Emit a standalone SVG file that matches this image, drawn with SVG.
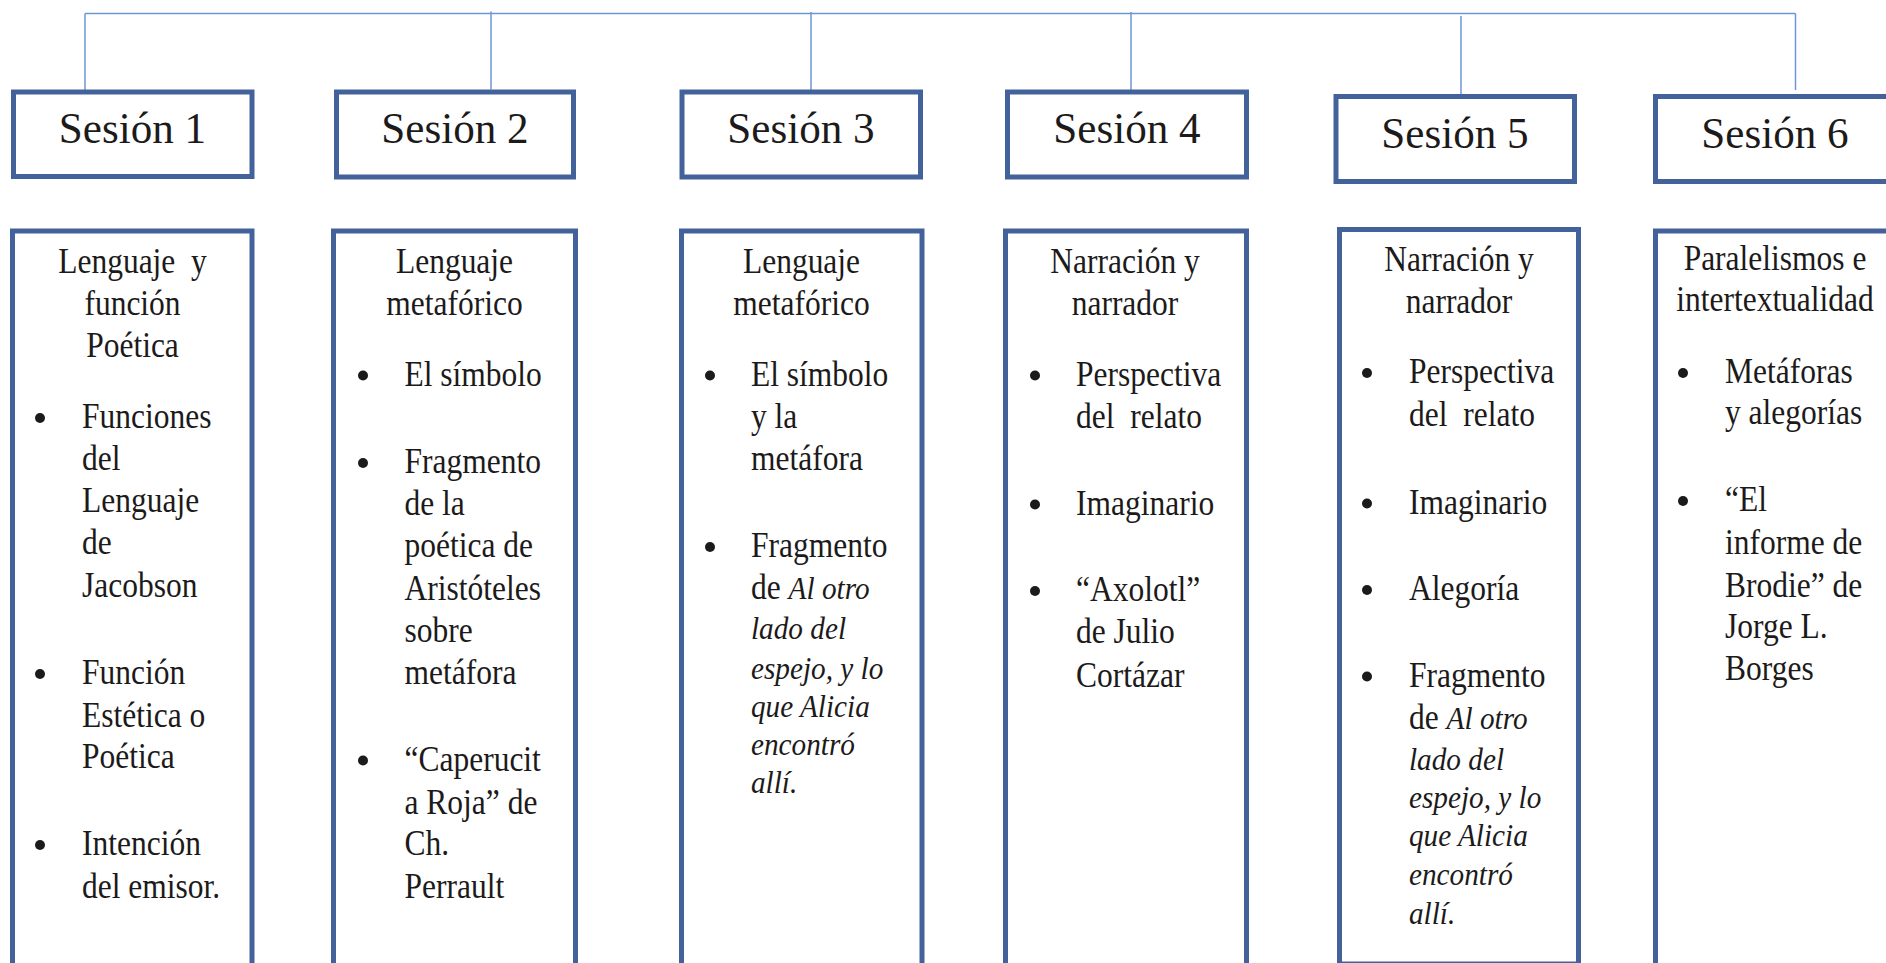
<svg xmlns="http://www.w3.org/2000/svg" width="1886" height="963" viewBox="0 0 1886 963">
<style>
.bg{fill:#ffffff}
.box{fill:#ffffff;stroke:#43629b;stroke-width:5}
.con{stroke:#6d97d4;stroke-width:1.5;fill:none}
.t{font-family:"Liberation Serif","Times New Roman",serif;font-size:35px;fill:#1c1a1a}
.h{font-family:"Liberation Serif","Times New Roman",serif;font-size:44px;fill:#1c1a1a;text-anchor:middle}
.i{font-style:italic;font-size:32.5px}
.c{text-anchor:middle}
.dot{fill:#1c1a1a}
</style>
<rect class="bg" x="0" y="0" width="1886" height="963"/>
<g id="connectors">
<path class="con" d="M85,13.5 H1795.5"/>
<path class="con" d="M85,13.5 V90"/>
<path class="con" d="M491,11.5 V89.5"/>
<path class="con" d="M811,12 V90"/>
<path class="con" d="M1131,12 V90"/>
<path class="con" d="M1461,16 V94"/>
<path class="con" d="M1795.5,13.5 V90"/>
</g>
<g id="sesion1">
<rect class="box" x="13.5" y="92" width="238.5" height="84.5"/>
<g transform="translate(132.5,0) scale(0.98,1)"><text class="h" x="0" y="143.5">Sesión 1</text></g>
</g>
<g id="sesion2">
<rect class="box" x="336.5" y="92" width="237" height="85"/>
<g transform="translate(455,0) scale(0.98,1)"><text class="h" x="0" y="143.5">Sesión 2</text></g>
</g>
<g id="sesion3">
<rect class="box" x="682" y="92" width="238.5" height="85"/>
<g transform="translate(801,0) scale(0.98,1)"><text class="h" x="0" y="143.5">Sesión 3</text></g>
</g>
<g id="sesion4">
<rect class="box" x="1007.5" y="92" width="239" height="85"/>
<g transform="translate(1127,0) scale(0.98,1)"><text class="h" x="0" y="143.5">Sesión 4</text></g>
</g>
<g id="sesion5">
<rect class="box" x="1336" y="96.5" width="238.5" height="85"/>
<g transform="translate(1455,0) scale(0.98,1)"><text class="h" x="0" y="148">Sesión 5</text></g>
</g>
<g id="sesion6">
<rect class="box" x="1655.5" y="96.5" width="238.5" height="85"/>
<g transform="translate(1775,0) scale(0.98,1)"><text class="h" x="0" y="148">Sesión 6</text></g>
</g>
<g id="contenido1">
<rect class="box" x="12.5" y="231" width="239.5" height="800"/>
<g transform="translate(132.5,0) scale(0.9,1)"><text class="t c" xml:space="preserve"><tspan x="0" y="273">Lenguaje  y</tspan><tspan x="0" y="315">función</tspan><tspan x="0" y="357">Poética</tspan></text></g>
<circle class="dot" cx="40" cy="418" r="5"/>
<circle class="dot" cx="40" cy="674" r="5"/>
<circle class="dot" cx="40" cy="845" r="5"/>
<g transform="translate(82,0) scale(0.9,1)"><text class="t"><tspan x="0" y="428.5">Funciones</tspan><tspan x="0" y="470">del</tspan><tspan x="0" y="512">Lenguaje</tspan><tspan x="0" y="554">de</tspan><tspan x="0" y="597">Jacobson</tspan><tspan x="0" y="684.5">Función</tspan><tspan x="0" y="727">Estética o</tspan><tspan x="0" y="768">Poética</tspan><tspan x="0" y="855">Intención</tspan><tspan x="0" y="898">del emisor.</tspan></text></g>
</g>
<g id="contenido2">
<rect class="box" x="333.5" y="231" width="242" height="800"/>
<g transform="translate(454.5,0) scale(0.9,1)"><text class="t c"><tspan x="0" y="273">Lenguaje</tspan><tspan x="0" y="315">metafórico</tspan></text></g>
<circle class="dot" cx="363" cy="375.5" r="5"/>
<circle class="dot" cx="363" cy="463" r="5"/>
<circle class="dot" cx="363" cy="760.5" r="5"/>
<g transform="translate(404.5,0) scale(0.9,1)"><text class="t"><tspan x="0" y="386">El símbolo</tspan><tspan x="0" y="473.5">Fragmento</tspan><tspan x="0" y="515">de la</tspan><tspan x="0" y="557">poética de</tspan><tspan x="0" y="600">Aristóteles</tspan><tspan x="0" y="642">sobre</tspan><tspan x="0" y="684">metáfora</tspan><tspan x="0" y="771">“Caperucit</tspan><tspan x="0" y="814">a Roja” de</tspan><tspan x="0" y="855">Ch.</tspan><tspan x="0" y="898">Perrault</tspan></text></g>
</g>
<g id="contenido3">
<rect class="box" x="681.5" y="231" width="240.5" height="800"/>
<g transform="translate(801.5,0) scale(0.9,1)"><text class="t c"><tspan x="0" y="273">Lenguaje</tspan><tspan x="0" y="315">metafórico</tspan></text></g>
<circle class="dot" cx="710" cy="375.5" r="5"/>
<circle class="dot" cx="710" cy="547" r="5"/>
<g transform="translate(751,0) scale(0.9,1)"><text class="t"><tspan x="0" y="386">El símbolo</tspan><tspan x="0" y="428">y la</tspan><tspan x="0" y="470">metáfora</tspan><tspan x="0" y="557.5">Fragmento</tspan><tspan x="0" y="599">de <tspan class="i">Al otro</tspan></tspan><tspan class="i" x="0" y="639.5">lado del</tspan><tspan class="i" x="0" y="679">espejo, y lo</tspan><tspan class="i" x="0" y="717.5">que Alicia</tspan><tspan class="i" x="0" y="755.5">encontró</tspan><tspan class="i" x="0" y="793.5">allí.</tspan></text></g>
</g>
<g id="contenido4">
<rect class="box" x="1005.5" y="231" width="241" height="800"/>
<g transform="translate(1125,0) scale(0.9,1)"><text class="t c"><tspan x="0" y="273">Narración y</tspan><tspan x="0" y="315">narrador</tspan></text></g>
<circle class="dot" cx="1035" cy="375.5" r="5"/>
<circle class="dot" cx="1035" cy="504.5" r="5"/>
<circle class="dot" cx="1035" cy="591" r="5"/>
<g transform="translate(1076,0) scale(0.9,1)"><text class="t" xml:space="preserve"><tspan x="0" y="386">Perspectiva</tspan><tspan x="0" y="428.5">del  relato</tspan><tspan x="0" y="515">Imaginario</tspan><tspan x="0" y="601.5">“Axolotl”</tspan><tspan x="0" y="643">de Julio</tspan><tspan x="0" y="687">Cortázar</tspan></text></g>
</g>
<g id="contenido5">
<rect class="box" x="1339.5" y="229.5" width="239" height="734.5"/>
<g transform="translate(1459,0) scale(0.9,1)"><text class="t c"><tspan x="0" y="271">Narración y</tspan><tspan x="0" y="313">narrador</tspan></text></g>
<circle class="dot" cx="1367" cy="373" r="5"/>
<circle class="dot" cx="1367" cy="503.5" r="5"/>
<circle class="dot" cx="1367" cy="590" r="5"/>
<circle class="dot" cx="1367" cy="676.5" r="5"/>
<g transform="translate(1409,0) scale(0.9,1)"><text class="t" xml:space="preserve"><tspan x="0" y="383.5">Perspectiva</tspan><tspan x="0" y="426">del  relato</tspan><tspan x="0" y="514">Imaginario</tspan><tspan x="0" y="600.5">Alegoría</tspan><tspan x="0" y="687">Fragmento</tspan><tspan x="0" y="729.5">de <tspan class="i">Al otro</tspan></tspan><tspan class="i" x="0" y="770">lado del</tspan><tspan class="i" x="0" y="808">espejo, y lo</tspan><tspan class="i" x="0" y="846.5">que Alicia</tspan><tspan class="i" x="0" y="885">encontró</tspan><tspan class="i" x="0" y="924">allí.</tspan></text></g>
</g>
<g id="contenido6">
<rect class="box" x="1655.5" y="231" width="239" height="800"/>
<g transform="translate(1775,0) scale(0.9,1)"><text class="t c"><tspan x="0" y="270">Paralelismos e</tspan><tspan x="0" y="311">intertextualidad</tspan></text></g>
<circle class="dot" cx="1683" cy="373" r="5"/>
<circle class="dot" cx="1683" cy="501" r="5"/>
<g transform="translate(1725,0) scale(0.9,1)"><text class="t"><tspan x="0" y="383.5">Metáforas</tspan><tspan x="0" y="424.5">y alegorías</tspan><tspan x="0" y="511.5">“El</tspan><tspan x="0" y="554">informe de</tspan><tspan x="0" y="597">Brodie” de</tspan><tspan x="0" y="638">Jorge L.</tspan><tspan x="0" y="680">Borges</tspan></text></g>
</g>
</svg>
